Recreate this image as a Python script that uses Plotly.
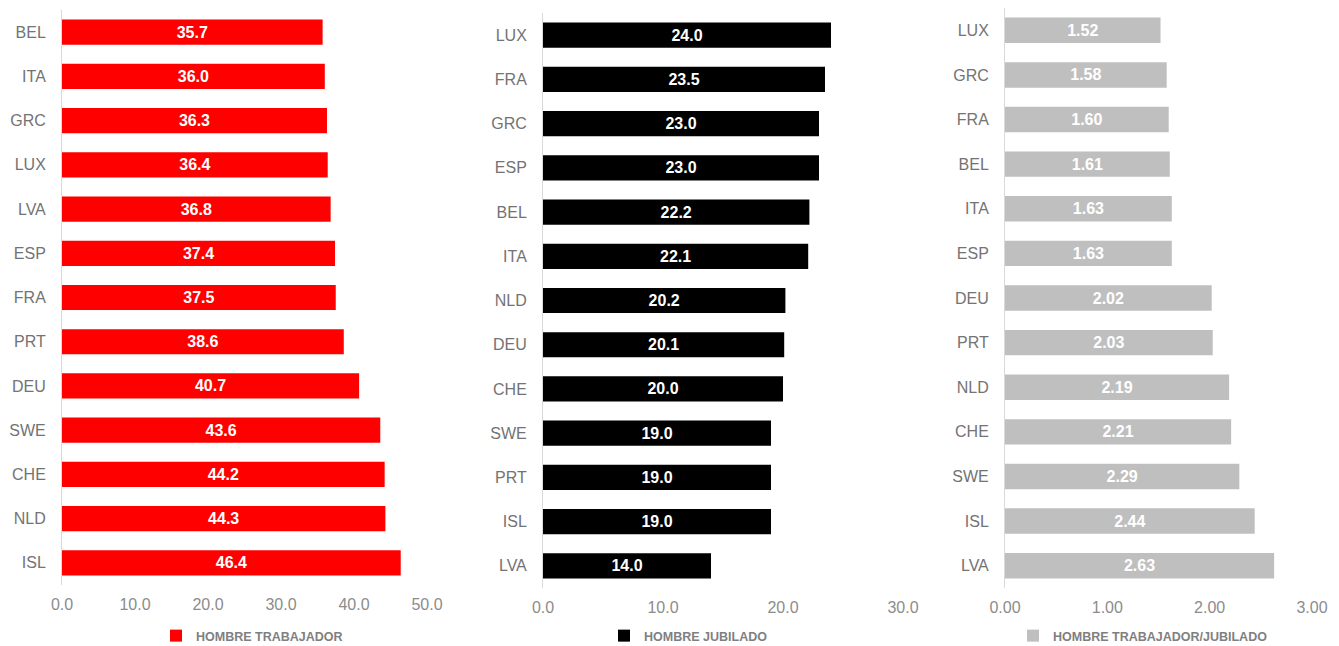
import plotly.graph_objects as go

# The page body has an 8px margin, so figure pixels = page pixels - 8
OFF = 8
W, H = 1339 - OFF, 646 - OFF

# ---- data ----
cats_trab = ["BEL", "ITA", "GRC", "LUX", "LVA", "ESP", "FRA", "PRT", "DEU", "SWE", "CHE", "NLD", "ISL"]
vals_trab = [35.7, 36.0, 36.3, 36.4, 36.8, 37.4, 37.5, 38.6, 40.7, 43.6, 44.2, 44.3, 46.4]

cats_jub = ["LUX", "FRA", "GRC", "ESP", "BEL", "ITA", "NLD", "DEU", "CHE", "SWE", "PRT", "ISL", "LVA"]
vals_jub = [24.0, 23.5, 23.0, 23.0, 22.2, 22.1, 20.2, 20.1, 20.0, 19.0, 19.0, 19.0, 14.0]

cats_ratio = ["LUX", "GRC", "FRA", "BEL", "ITA", "ESP", "DEU", "PRT", "NLD", "CHE", "SWE", "ISL", "LVA"]
vals_ratio = [1.52, 1.58, 1.60, 1.61, 1.63, 1.63, 2.02, 2.03, 2.19, 2.21, 2.29, 2.44, 2.63]

names = ["HOMBRE TRABAJADOR", "HOMBRE JUBILADO", "HOMBRE TRABAJADOR/JUBILADO"]
colors = ["#ff0000", "#000000", "#bfbfbf"]

xticks_trab = [0, 10, 20, 30, 40, 50]
xticks_jub = [0, 10, 20, 30]
xticks_ratio = [0, 1, 2, 3]

# ---- layout geometry (page pixels) ----
panels = [
    dict(cats=cats_trab, vals=vals_trab, ticks=xticks_trab, fmt="%{x:.1f}", tfmt=".1f",
         x0=62, x1=427, y0=10, y1=585, leg_x=156),
    dict(cats=cats_jub, vals=vals_jub, ticks=xticks_jub, fmt="%{x:.1f}", tfmt=".1f",
         x0=543, x1=903, y0=13, y1=588, leg_x=604),
    dict(cats=cats_ratio, vals=vals_ratio, ticks=xticks_ratio, fmt="%{x:.2f}", tfmt=".2f",
         x0=1005, x1=1312, y0=8, y1=588, leg_x=1013),
]


def clamp(v):
    return max(0.0, min(1.0, v))


def px(x):
    return clamp((x - OFF) / W)


def py(y):
    return clamp(1 - (y - OFF) / H)


fig = go.Figure()
font_main = "Liberation Sans, Arial, sans-serif"

for i, p in enumerate(panels):
    n = "" if i == 0 else str(i + 1)
    leg = "legend" + n
    fig.add_trace(go.Bar(
        y=p["cats"], x=p["vals"], orientation="h",
        name=names[i],
        marker=dict(color=colors[i], line=dict(width=0)),
        texttemplate=p["fmt"], textposition="inside", insidetextanchor="middle",
        textfont=dict(color="white", size=16, family=font_main, weight="bold"),
        xaxis="x" + n, yaxis="y" + n,
        legend=leg, showlegend=True,
    ))
    fig.layout["xaxis" + n] = dict(
        domain=[px(p["x0"]), px(p["x1"])],
        range=[p["ticks"][0], p["ticks"][-1]],
        anchor="y" + n,
        tickvals=p["ticks"], tickformat=p["tfmt"],
        showgrid=False, zeroline=False, showline=False,
        tickfont=dict(size=16, color="#8c8c8c", family=font_main),
        ticks="", ticklabelstandoff=8, fixedrange=True, automargin=False,
    )
    fig.layout["yaxis" + n] = dict(
        domain=[py(p["y1"]), py(p["y0"])],
        anchor="x" + n,
        categoryorder="array", categoryarray=p["cats"],
        autorange="reversed",
        showgrid=False, zeroline=False,
        showline=True, linecolor="#d9d9d9", linewidth=1,
        tickfont=dict(size=16, color="#737373", family=font_main),
        ticks="", ticklabelstandoff=12, fixedrange=True, automargin=False,
    )
    fig.layout[leg] = dict(
        x=px(p["leg_x"]), y=py(636), xanchor="left", yanchor="middle",
        orientation="h", bgcolor="rgba(0,0,0,0)",
        font=dict(size=12.5, color="#7f7f7f", family=font_main, weight="bold"),
        itemwidth=30, traceorder="normal",
    )

fig.update_layout(
    width=W, height=H,
    margin=dict(l=0, r=0, t=0, b=0, autoexpand=False),
    paper_bgcolor="white", plot_bgcolor="white",
    bargap=0.43,
    font=dict(family=font_main),
)

fig.write_html("out.html")
